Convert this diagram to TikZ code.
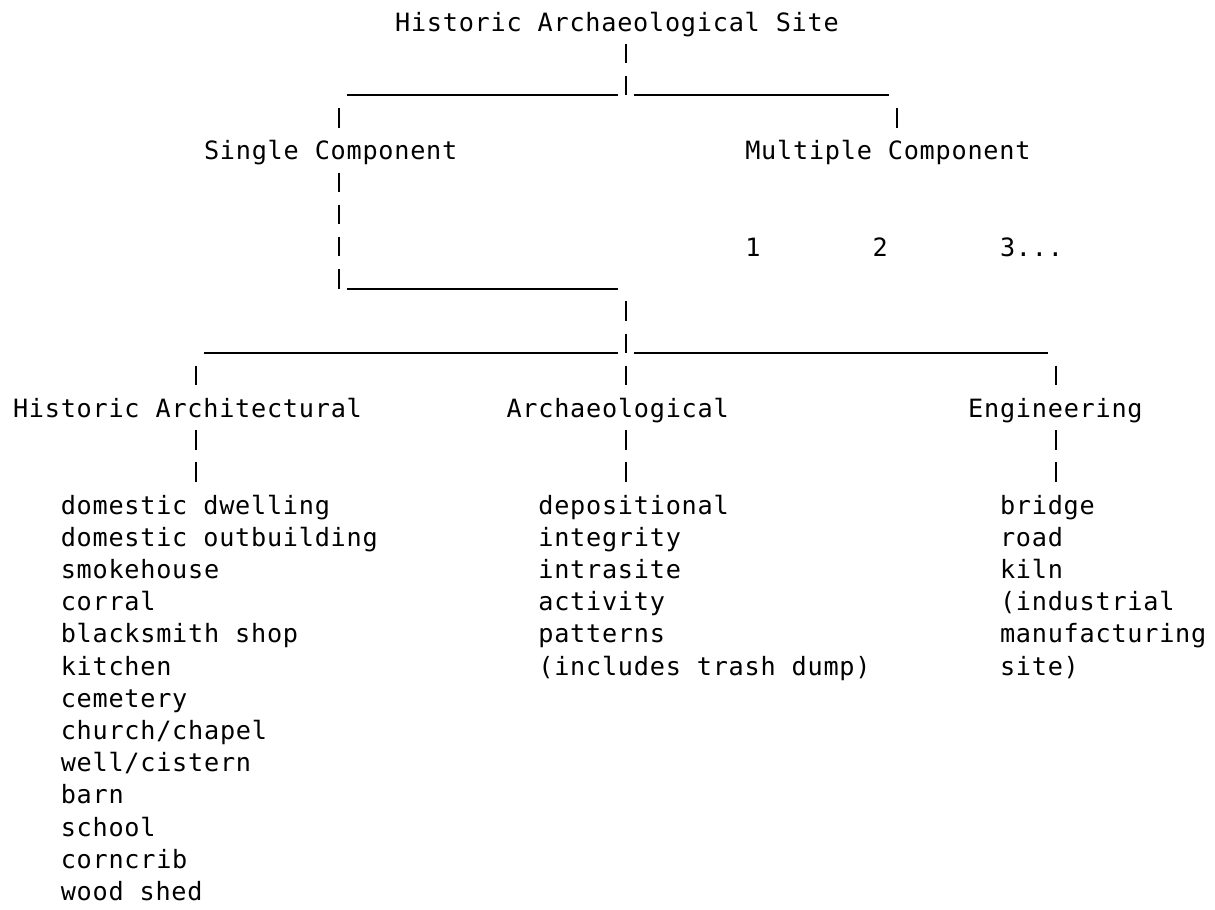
\documentclass[tikz,border=0pt]{standalone}
\usepackage{fontspec}
\newfontfamily\tw[LetterSpace=3.0]{DejaVu Sans Mono}
\begin{document}
\begin{tikzpicture}[x=7.96pt, y=-16.1pt,
  txt/.style={font=\tw\fontsize{12.6pt}{16.1pt}\selectfont, inner sep=0pt, outer sep=0pt, anchor=base west},
  bar/.style={line width=1pt, dash pattern=on 9.75pt off 6.35pt},
  rule/.style={line width=1pt}]
\useasboundingbox[fill=white] (0,0) rectangle (76.32,28.23);
\begin{scope}[shift={(0.8166,0.9627)}]
% text nodes
\node[txt] (t)  at (24,0) {Historic Archaeological Site};
\node[txt] (sc) at (12,4) {Single Component};
\node[txt] (mc) at (46,4) {Multiple Component};
\node[txt] (n1) at (46,7) {1};
\node[txt] (n2) at (54,7) {2};
\node[txt] (n3) at (62,7) {3...};
\node[txt] (ha) at (0,12) {Historic Architectural};
\node[txt] (ar) at (31,12) {Archaeological};
\node[txt] (en) at (60,12) {Engineering};
\foreach \s [count=\i from 15] in {{domestic dwelling},{domestic outbuilding},{smokehouse},{corral},{blacksmith shop},{kitchen},{cemetery},{church/chapel},{well/cistern},{barn},{school},{corncrib},{wood shed}}
  \node[txt] (hal\i) at (3,\i) {\s};
\foreach \s [count=\i from 15] in {{depositional},{integrity},{intrasite},{activity},{patterns},{(includes trash dump)}}
  \node[txt] (arl\i) at (33,\i) {\s};
\foreach \s [count=\i from 15] in {{bridge},{road},{kiln},{(industrial},{manufacturing},{site)}}
  \node[txt] (enl\i) at (62,\i) {\s};
% junction coordinates
\coordinate (t1) at (38.5,0.3944);
\coordinate (t2) at (38.5,2);
\coordinate (h1a) at (21,2);
\coordinate (h1b) at (38,2);
\coordinate (h1c) at (39,2);
\coordinate (h1d) at (55,2);
\coordinate (s1) at (20.5,2.3944);
\coordinate (s2) at (20.5,3);
\coordinate (m1) at (55.5,2.3944);
\coordinate (m2) at (55.5,3);
\coordinate (s3) at (20.5,4.3944);
\coordinate (s4) at (20.5,8);
\coordinate (h2a) at (21,8);
\coordinate (h2b) at (38,8);
\coordinate (c1) at (38.5,8.3944);
\coordinate (c2) at (38.5,10);
\coordinate (h3a) at (12,10);
\coordinate (h3b) at (38,10);
\coordinate (h3c) at (39,10);
\coordinate (h3d) at (65,10);
\foreach \x/\n in {11.5/a, 38.5/b, 65.5/c}{
  \coordinate (u\n1) at (\x,10.3944);
  \coordinate (u\n2) at (\x,11);
  \coordinate (d\n1) at (\x,12.3944);
  \coordinate (d\n2) at (\x,14);
}
% connectors
\draw[bar] (t1) -- (t2);
\draw[rule] (h1a) -- (h1b);
\draw[rule] (h1c) -- (h1d);
\draw[bar] (s1) -- (s2);
\draw[bar] (m1) -- (m2);
\draw[bar] (s3) -- (s4);
\draw[rule] (h2a) -- (h2b);
\draw[bar] (c1) -- (c2);
\draw[rule] (h3a) -- (h3b);
\draw[rule] (h3c) -- (h3d);
\foreach \n in {a,b,c}{
  \draw[bar] (u\n1) -- (u\n2);
  \draw[bar] (d\n1) -- (d\n2);
}
\end{scope}
\end{tikzpicture}
\end{document}
